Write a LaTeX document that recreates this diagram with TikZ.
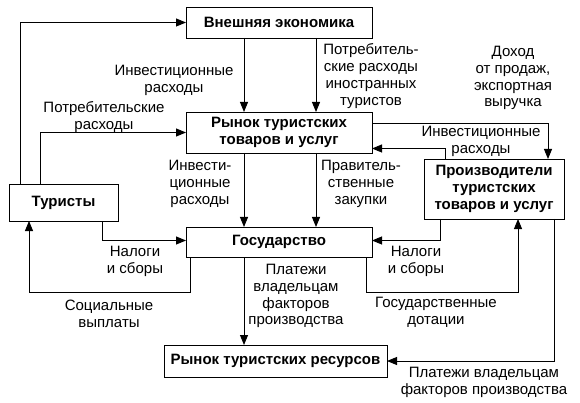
\documentclass[tikz,border=0pt]{standalone}
\usepackage{fontspec}
\setmainfont{Liberation Sans}
\usetikzlibrary{arrows.meta,calc}
\begin{document}
\begin{tikzpicture}[x=1pt,y=-1pt,
  box/.style={draw,line width=0.9pt,inner sep=0pt,outer sep=0pt,align=center,
    font=\fontsize{15}{16.8}\selectfont\bfseries},
  lbl/.style={align=center,inner sep=0pt,font=\fontsize{15}{16.8}\selectfont},
  arr/.style={line width=0.9pt,-{Triangle[length=10pt,width=8pt]}},
  ln/.style={line width=0.9pt}]
\useasboundingbox (0,0) rectangle (580,403);
\node[box,minimum width=186pt,minimum height=31pt] (ext) at (279,22.5) {Внешняя экономика};
\node[box,minimum width=186pt,minimum height=41pt] (mkt) at (279,132.5) {Рынок туристских\\товаров и услуг};
\node[box,minimum width=109pt,minimum height=37pt] (tour) at (63.5,202.5) {Туристы};
\node[box,minimum width=186pt,minimum height=30pt] (gov) at (279,242) {Государство};
\node[box,minimum width=140pt,minimum height=60pt] (prod) at (494,189) {Производители\\туристских\\товаров и услуг};
\node[box,minimum width=223pt,minimum height=32pt] (res) at (275.5,361) {Рынок туристских ресурсов};
\coordinate (xa) at (244,0);
\coordinate (xb) at (316,0);
% connectors
\draw[arr] ([xshift=11pt]tour.north west) |- (ext.west);
\draw[arr] ([xshift=31pt]tour.north west) |- (mkt.west);
\draw[arr] (ext.south -| xa) -- (mkt.north -| xa);
\draw[arr] (ext.south -| xb) -- (mkt.north -| xb);
\draw[arr] (mkt.south -| xa) -- (gov.north -| xa);
\draw[arr] (mkt.south -| xb) -- (gov.north -| xb);
\draw[arr] ([xshift=21pt]prod.north west) |- ([yshift=-16pt]mkt.east);
\draw[arr] ([yshift=9.5pt]mkt.east) -| ([xshift=-16pt]prod.north east);
\draw[arr] ([xshift=-16pt]tour.south east) |- ([yshift=1.5pt]gov.west);
\draw[arr] ([xshift=4pt]gov.south west) -- ++(0,35) -| ([xshift=20pt]tour.south west);
\draw[arr] ([xshift=16pt]prod.south west) |- ([yshift=1.5pt]gov.east);
\draw[arr] ([xshift=-6pt]gov.south east) -- ++(0,35) -| ([xshift=-46pt]prod.south east);
\draw[arr] (gov.south -| xa) -- (res.north -| xa);
\draw[arr] ([xshift=-10pt]prod.south east) |- (res.east);
% labels
\node[lbl] (l1) at (174,80) {Инвестиционные\\расходы};
\node[lbl] (l2) at (104,117) {Потребительские\\расходы};
\node[lbl] (l3) at (371,76) {Потребитель-\\ские расходы\\иностранных\\туристов};
\node[lbl] (l4) at (513,78) {Доход\\от продаж,\\экспортная\\выручка};
\node[lbl] (l5) at (481,141) {Инвестиционные\\расходы};
\node[lbl] (l6) at (200,184) {Инвести-\\ционные\\расходы};
\node[lbl] (l7) at (361,184) {Правитель-\\ственные\\закупки};
\node[lbl] (l8) at (135,261) {Налоги\\и сборы};
\node[lbl] (l9) at (416,261) {Налоги\\и сборы};
\node[lbl] (l10) at (109,314) {Социальные\\выплаты};
\node[lbl] (l11) at (436,312) {Государственные\\дотации};
\node[lbl] (l12) at (296,296) {Платежи\\владельцам\\факторов\\производства};
\node[lbl] (l13) at (484,382) {Платежи владельцам\\факторов производства};
\end{tikzpicture}
\end{document}
